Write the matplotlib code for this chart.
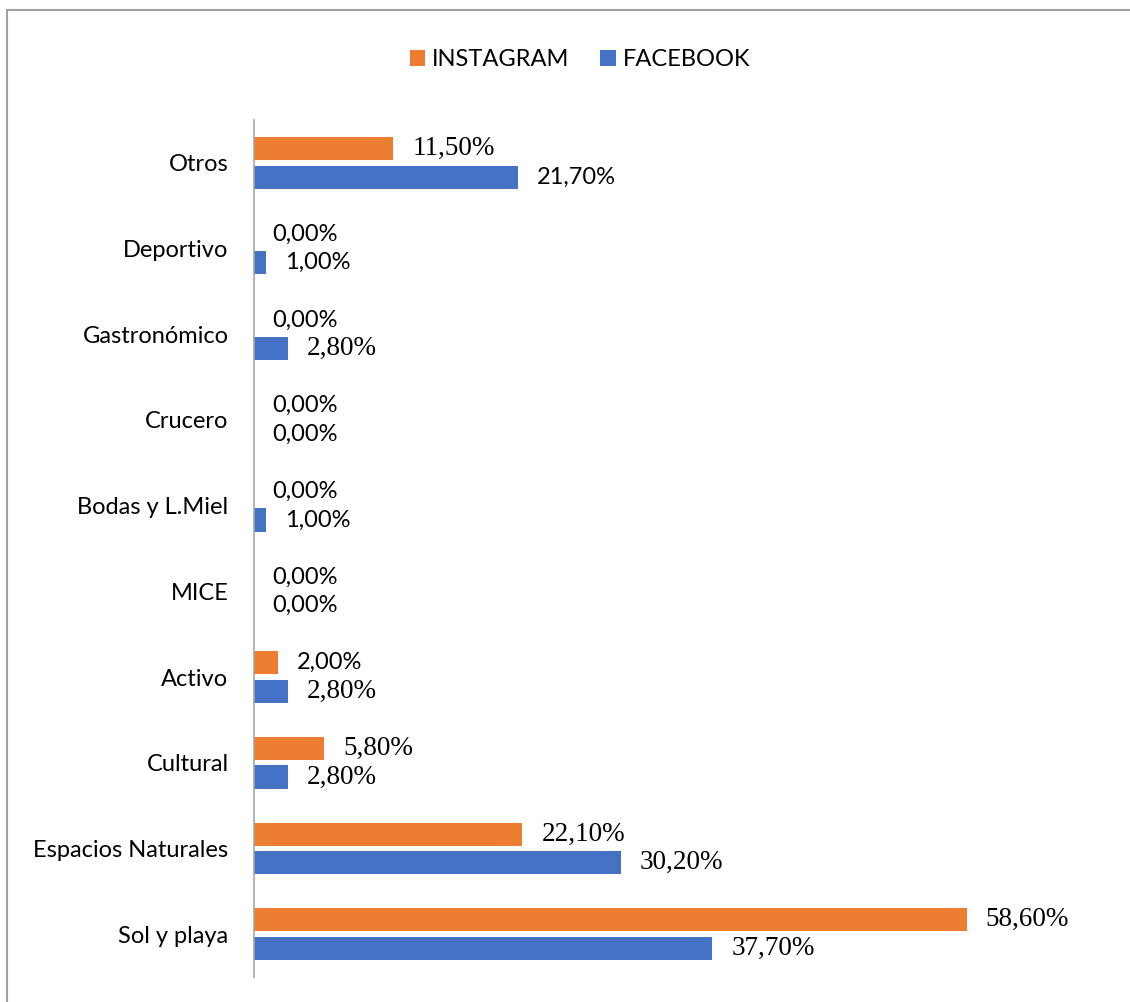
import matplotlib.pyplot as plt
from matplotlib.patches import Rectangle

categories = ["Sol y playa", "Espacios Naturales", "Cultural", "Activo", "MICE",
              "Bodas y L.Miel", "Crucero", "Gastronómico", "Deportivo", "Otros"]
instagram = [58.6, 22.1, 5.8, 2.0, 0.0, 0.0, 0.0, 0.0, 0.0, 11.5]
facebook = [37.7, 30.2, 2.8, 2.8, 0.0, 1.0, 0.0, 2.8, 1.0, 21.7]
# which value labels are drawn in a serif face in the original
insta_serif = [True, True, True, False, False, False, False, False, False, True]
fb_serif = [True, True, True, True, False, False, False, True, False, False]

ORANGE = "#ED7D31"
BLUE = "#4472C4"
SANS = "Lato"
SERIF = "Liberation Serif"


def pct(v):
    return f"{v:.2f}".replace(".", ",") + "%"


fig = plt.figure(figsize=(11.3, 10.02), dpi=100)
ax = fig.add_axes([253.5 / 1130, 25 / 1002, 852 / 1130, 857 / 1002])

y = range(len(categories))
off, h = 0.1667, 0.27
yi = [i + off for i in y]
yf = [i - off for i in y]
ax.barh(yi, instagram, height=h, color=ORANGE, label="INSTAGRAM")
ax.barh(yf, facebook, height=h, color=BLUE, label="FACEBOOK")

for ys, vals, serif in ((yi, instagram, insta_serif), (yf, facebook, fb_serif)):
    for yy, v, s in zip(ys, vals, serif):
        ax.annotate(pct(v), (v, yy), xytext=(13.7, 0), textcoords="offset points",
                    va="center", ha="left",
                    family=SERIF if s else SANS,
                    fontsize=19.5 if s else 17, color="black")

ax.set_xlim(0, 70)
ax.set_ylim(-0.5, len(categories) - 0.5)
ax.set_yticks(list(y))
ax.set_yticklabels(categories, family=SANS, fontsize=17)
ax.tick_params(axis="y", length=0, pad=18)
ax.set_xticks([])
for s in ("top", "right", "bottom"):
    ax.spines[s].set_visible(False)
ax.spines["left"].set_color("#a6a6a6")
ax.spines["left"].set_linewidth(1.2)

handles, labels = ax.get_legend_handles_labels()
fig.legend(handles, labels, loc="center", bbox_to_anchor=(580 / 1130, 1 - 60 / 1002),
           ncol=2, frameon=False, prop={"family": SANS, "size": 17},
           handlelength=0.65, handleheight=0.65, handletextpad=0.3, columnspacing=1.3)

fig.add_artist(Rectangle((7 / 1130, -0.05), 1.1, 1 - 10 / 1002 + 0.05,
                         transform=fig.transFigure, fill=False,
                         edgecolor="#a0a0a0", linewidth=1.5, clip_on=False))

fig.savefig("out.png", dpi=100)
